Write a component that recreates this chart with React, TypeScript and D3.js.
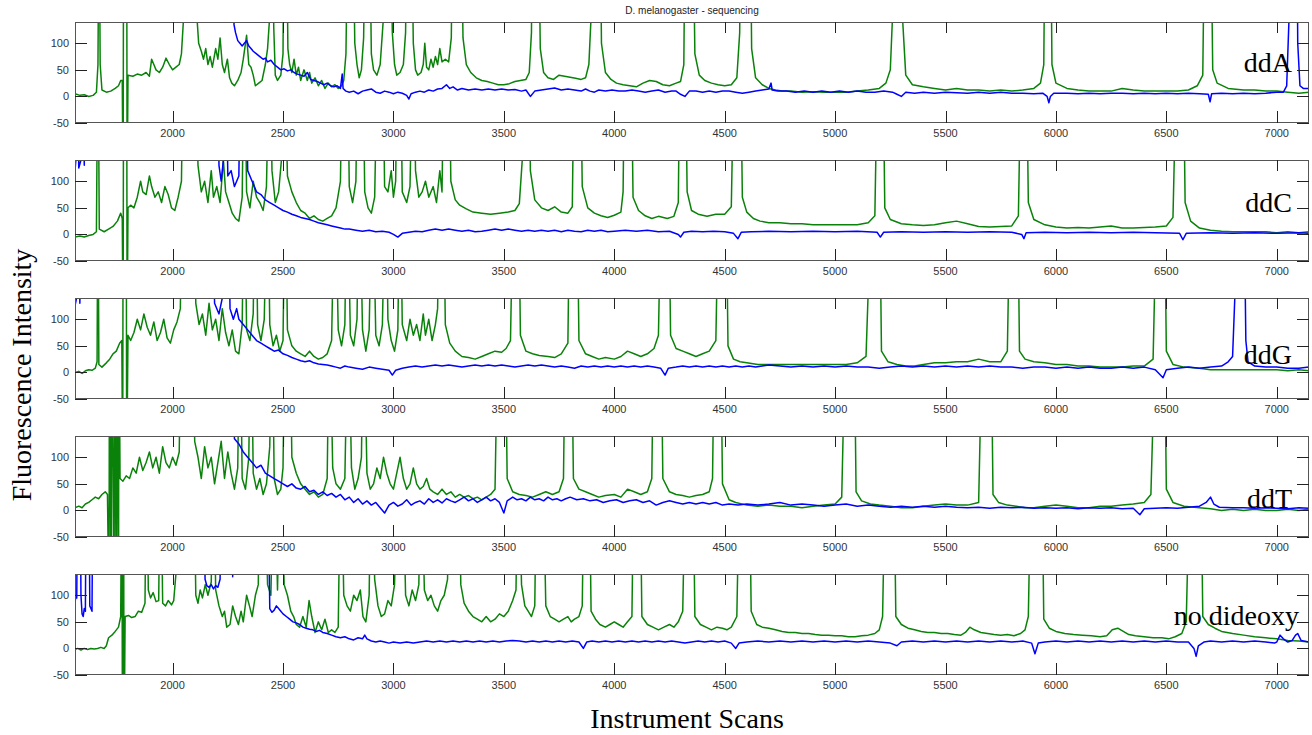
import React from "react";
import * as d3 from "d3";

type Pt = [number, number];

// axis values
const xDomain: [number, number] = [1558, 7146];
const yDomain: [number, number] = [-50, 140];
const xTicks = [2000, 2500, 3000, 3500, 4000, 4500, 5000, 5500, 6000, 6500, 7000];
const yTicks = [-50, 0, 50, 100];
const panelLabels = ["ddA", "ddC", "ddG", "ddT", "no dideoxy"];

// traces: [instrument scan, intensity]; 400 / -200 = off scale
const ddAGreen: Pt[] = [
  [1558,5],[1580,2],[1600,3],[1620,0],[1640,2],[1655,8],[1662,60],[1667,400],[1672,60],[1680,12],[1700,8],[1720,10],[1740,15],[1755,20],[1765,30],[1772,30],[1776,-200],[1778,400],[1792,400],[1794,-200],[1798,40],
  [1820,38],[1840,42],[1860,40],[1880,45],[1895,38],[1905,70],[1915,60],[1925,50],[1940,45],[1955,55],[1970,72],[1985,60],[2000,50],[2015,55],[2030,60],[2040,80],[2050,150],[2060,400],[2100,400],[2110,150],[2118,100],
  [2130,85],[2140,70],[2150,90],[2160,60],[2170,75],[2180,55],[2195,90],[2205,70],[2215,110],[2225,60],[2235,45],[2248,70],[2258,35],[2268,25],[2280,20],[2295,30],[2310,45],[2320,70],[2335,115],[2345,60],[2355,55],[2365,40],[2375,20],[2390,25],[2405,30],[2420,60],[2430,90],[2438,140],[2442,400],[2448,150],[2452,400],[2458,130],[2465,40],[2475,30],[2490,40],[2500,80],[2505,400],[2515,400],[2522,90],
  [2530,60],[2540,45],[2550,70],[2560,40],[2570,55],[2580,30],[2595,50],[2610,30],[2620,45],[2630,25],[2645,35],[2660,20],[2675,30],[2690,15],[2705,25],[2720,18],[2735,22],[2750,15],[2765,20],[2775,30],[2785,80],[2795,400],[2815,400],[2825,100],[2835,60],[2845,35],[2855,50],[2865,110],[2875,400],[2890,400],[2900,80],[2910,50],[2925,40],[2940,60],
  [2955,150],[2965,400],[2985,400],[2995,120],[3005,60],[3015,40],[3030,45],[3045,60],[3055,120],[3062,400],[3080,400],[3090,100],[3100,50],[3110,40],[3125,45],[3135,60],[3142,100],[3150,55],[3160,50],[3170,70],[3180,55],[3190,75],[3200,60],[3210,90],[3220,65],[3235,70],[3250,65],[3262,110],[3270,400],[3305,400],[3315,110],
  [3330,60],[3350,45],[3375,35],[3400,30],[3425,28],[3450,25],[3475,22],[3500,22],[3525,24],[3550,28],[3575,30],[3600,32],[3615,45],[3625,120],[3630,400],[3655,400],[3665,90],[3680,45],[3700,35],[3725,32],[3750,40],[3775,38],[3800,36],[3825,34],[3850,32],[3870,35],[3885,60],[3895,150],[3900,400],[3935,400],[3942,100],
  [3960,45],[3985,32],[4010,25],[4040,22],[4070,20],[4100,18],[4130,25],[4160,30],[4190,28],[4220,22],[4250,20],[4280,25],[4300,28],[4315,60],[4322,400],[4355,400],[4365,80],[4385,40],[4410,30],[4440,25],[4470,22],[4500,20],[4530,22],[4555,35],[4568,120],[4572,400],[4615,400],[4622,90],
  [4640,35],[4670,22],[4700,15],[4730,12],[4760,10],[4800,10],[4850,8],[4900,9],[4950,8],[5000,8],[5050,8],[5100,10],[5150,12],[5200,15],[5230,25],[5250,50],[5260,150],[5263,400],[5300,400],[5305,150],[5320,40],[5350,22],[5400,18],[5450,15],[5500,12],[5550,15],[5600,12],[5650,12],[5700,10],[5750,12],[5800,10],[5850,12],[5900,15],[5930,25],[5945,60],[5952,400],[5975,400],[5982,60],
  [6000,25],[6050,15],[6100,12],[6150,10],[6200,10],[6250,10],[6300,15],[6350,12],[6400,10],[6450,10],[6500,10],[6550,10],[6600,12],[6640,20],[6665,40],[6675,400],[6700,400],[6710,50],[6730,25],[6780,15],[6850,12],[6900,12],[6950,10],[7000,10],[7050,8],[7100,6],[7146,8],
];

const ddABlue: Pt[] = [
  [1558,130],[1562,400],[2270,400],[2278,135],[2285,120],[2295,105],[2305,100],[2315,95],[2325,100],[2335,105],[2345,95],[2355,90],[2365,85],[2380,80],[2395,75],[2410,70],[2420,72],[2430,65],[2445,68],[2460,60],[2475,55],[2490,50],[2505,52],[2520,48],[2535,50],[2550,45],[2565,42],[2580,40],[2595,38],[2610,45],[2625,32],[2640,30],[2655,28],[2670,25],[2685,22],[2700,25],[2715,20],[2730,18],[2745,20],[2760,15],[2768,42],[2772,15],
  [2785,10],[2800,8],[2820,10],[2840,5],[2860,10],[2880,12],[2900,14],[2920,8],[2940,6],[2960,10],[2980,8],[3000,5],[3020,8],[3040,6],[3060,2],[3070,-5],[3080,5],[3100,8],[3120,10],[3140,8],[3160,12],[3180,10],[3200,14],[3220,15],[3240,22],[3255,15],[3270,18],[3290,12],[3310,15],[3340,12],[3370,14],[3400,12],[3430,14],[3460,12],[3490,14],[3520,12],[3550,13],[3580,10],[3600,12],[3620,0],[3640,10],
  [3670,12],[3700,14],[3730,16],[3760,12],[3790,14],[3820,12],[3850,10],[3870,14],[3890,10],[3910,8],[3930,12],[3960,10],[3990,12],[4020,10],[4050,10],[4080,12],[4110,10],[4140,8],[4170,10],[4200,12],[4230,8],[4260,10],[4280,10],[4300,4],[4320,0],[4340,10],[4370,10],[4400,8],[4430,10],[4460,8],[4490,10],[4520,10],[4550,8],[4580,6],[4610,8],[4640,10],[4670,12],[4700,14],[4710,25],[4715,12],
  [4740,10],[4780,10],[4820,8],[4860,10],[4900,8],[4940,10],[4980,8],[5020,10],[5060,8],[5100,10],[5140,8],[5180,8],[5220,10],[5260,8],[5280,4],[5300,0],[5320,8],[5360,6],[5400,8],[5450,6],[5500,8],[5550,7],[5600,6],[5650,8],[5700,6],[5750,8],[5800,6],[5850,6],[5900,5],[5940,6],[5960,0],[5968,-12],[5975,0],[5990,6],
  [6050,6],[6100,5],[6150,6],[6200,5],[6250,6],[6300,6],[6350,5],[6400,6],[6450,5],[6500,6],[6550,5],[6600,6],[6650,5],[6690,4],[6698,-10],[6705,5],[6750,6],[6800,5],[6850,6],[6900,5],[6950,6],[7000,8],[7030,8],[7045,20],[7055,140],[7060,400],[7090,400],[7095,100],[7105,20],[7120,15],[7146,15],
];

const ddCGreen: Pt[] = [
  [1558,-5],[1580,-3],[1600,-5],[1620,-2],[1640,0],[1655,5],[1662,400],[1668,10],[1690,5],[1710,10],[1730,15],[1750,25],[1765,40],[1772,30],[1776,-200],[1778,400],[1792,400],[1794,-200],[1798,50],
  [1810,55],[1825,50],[1840,70],[1855,100],[1865,80],[1880,75],[1895,110],[1905,90],[1920,70],[1935,80],[1950,60],[1965,90],[1980,75],[1995,50],[2010,45],[2025,70],[2040,100],[2050,400],[2100,400],[2115,130],
  [2130,80],[2145,100],[2160,60],[2175,120],[2185,70],[2200,90],[2215,60],[2230,140],[2240,80],[2255,60],[2270,40],[2285,30],[2300,25],[2315,70],[2325,400],[2335,80],[2350,50],[2365,100],[2380,70],[2395,60],[2410,45],[2425,90],[2440,400],[2450,120],[2465,60],[2480,80],[2495,150],[2505,400],[2520,110],
  [2540,80],[2560,60],[2580,45],[2600,40],[2620,30],[2640,35],[2660,28],[2680,25],[2700,30],[2720,35],[2740,50],[2760,100],[2770,400],[2790,400],[2800,90],[2815,60],[2830,100],[2840,400],[2860,400],[2870,80],[2885,50],[2900,40],[2915,70],[2930,400],[2950,400],[2960,90],[2975,80],[2990,120],[3000,70],[3010,100],[3020,400],[3030,400],[3040,80],
  [3060,60],[3075,90],[3090,400],[3100,120],[3115,70],[3130,80],[3145,100],[3160,70],[3180,90],[3195,60],[3210,120],[3220,80],[3230,400],[3250,400],[3260,100],[3280,65],[3300,55],[3330,48],[3360,42],[3400,40],[3440,38],[3480,40],[3520,42],[3550,45],[3570,58],[3585,150],[3590,400],[3615,400],[3620,120],
  [3640,65],[3670,50],[3700,45],[3730,52],[3760,42],[3790,40],[3810,52],[3820,400],[3845,400],[3855,90],[3880,50],[3910,40],[3940,35],[3970,32],[4000,36],[4030,42],[4040,80],[4048,400],[4075,400],[4085,70],[4110,45],[4140,35],[4170,30],[4200,34],[4240,30],[4270,34],[4290,60],[4298,400],[4320,400],[4330,80],
  [4350,45],[4380,38],[4420,34],[4460,38],[4500,38],[4530,52],[4545,400],[4570,400],[4580,70],[4600,42],[4630,30],[4660,25],[4700,22],[4750,22],[4800,20],[4850,20],[4900,18],[4950,18],[5000,18],[5050,18],[5100,18],[5150,22],[5180,35],[5195,400],[5215,400],[5225,50],[5250,28],[5300,20],[5350,18],[5400,17],[5450,18],[5500,22],[5550,25],[5600,20],[5650,15],[5700,14],[5750,15],[5800,16],[5830,35],[5845,400],[5865,400],[5875,60],
  [5900,28],[5950,18],[6000,14],[6050,12],[6100,13],[6150,12],[6200,14],[6250,16],[6300,12],[6350,12],[6400,13],[6450,14],[6500,16],[6530,32],[6550,400],[6575,400],[6585,60],[6610,25],[6650,12],[6700,8],[6750,6],[6800,5],[6850,5],[6900,5],[6950,5],[7000,3],[7050,5],[7100,3],[7146,5],
];

const ddCBlue: Pt[] = [
  [1558,120],[1562,140],[1568,400],[1575,125],[1585,140],[1590,400],[1600,130],[1605,400],[2200,400],[2210,130],[2220,100],[2230,140],[2240,400],[2250,110],[2265,120],[2280,90],[2300,110],[2310,400],[2330,400],[2340,120],[2360,100],[2380,80],[2400,75],[2420,65],[2440,60],[2460,55],[2480,50],[2500,45],[2520,42],[2540,38],[2560,35],[2580,32],[2600,30],[2620,28],[2640,25],[2660,22],[2680,20],[2700,18],[2720,16],[2740,14],[2760,12],[2780,10],
  [2800,10],[2830,8],[2860,6],[2890,8],[2920,5],[2950,6],[2980,4],[3000,0],[3020,-5],[3040,2],[3070,4],[3100,6],[3130,5],[3160,8],[3190,10],[3220,8],[3250,10],[3280,8],[3310,6],[3340,8],[3370,5],[3400,6],[3430,8],[3460,10],[3490,8],[3520,10],[3550,8],[3580,6],[3610,8],[3640,6],[3670,8],[3700,6],[3730,8],[3760,5],[3790,8],[3820,6],[3850,5],[3880,8],[3910,6],[3940,8],[3970,5],[4000,6],
  [4050,8],[4100,6],[4150,8],[4200,5],[4250,6],[4290,0],[4300,-5],[4315,4],[4350,6],[4400,5],[4450,6],[4500,5],[4540,2],[4560,-8],[4575,4],[4620,5],[4700,6],[4800,5],[4900,6],[5000,5],[5100,6],[5190,4],[5205,-5],[5220,4],[5300,5],[5400,4],[5500,5],[5600,4],[5700,5],[5800,4],[5845,0],[5855,-8],[5865,3],[5950,4],[6050,3],[6150,4],[6250,3],[6350,4],[6450,3],[6560,2],[6575,-10],[6590,2],[6700,3],[6800,2],[6900,3],[7000,2],[7100,3],[7146,2],
];

const ddGGreen: Pt[] = [
  [1558,0],[1575,2],[1590,-2],[1605,3],[1620,5],[1635,4],[1650,8],[1658,20],[1662,400],[1666,15],[1680,10],[1700,18],[1715,25],[1730,35],[1745,40],[1760,55],[1770,60],[1774,-200],[1776,400],[1790,400],[1792,-200],[1798,70],
  [1810,60],[1825,75],[1840,100],[1855,80],[1870,110],[1885,85],[1900,70],[1915,95],[1930,60],[1945,75],[1960,100],[1975,65],[1990,55],[2005,80],[2020,95],[2035,120],[2045,400],[2095,400],[2105,130],
  [2120,90],[2135,110],[2150,70],[2165,130],[2180,80],[2195,100],[2210,60],[2225,120],[2240,75],[2255,50],[2270,80],[2285,40],[2300,35],[2315,90],[2325,400],[2335,80],[2350,60],[2365,110],[2375,400],[2385,90],[2400,60],[2415,100],[2430,400],[2440,90],[2455,50],[2470,70],[2485,40],[2500,60],[2510,400],[2520,80],
  [2540,50],[2560,40],[2580,35],[2600,30],[2620,40],[2640,30],[2660,25],[2680,28],[2700,35],[2720,60],[2735,400],[2750,80],[2765,50],[2780,90],[2790,400],[2805,70],[2820,50],[2835,100],[2845,400],[2860,80],[2875,40],[2890,80],[2905,400],[2920,70],[2935,50],[2950,90],[2965,400],[2975,100],[2990,60],[3005,40],[3020,80],[3030,400],[3040,90],
  [3060,60],[3075,100],[3090,70],[3105,90],[3120,60],[3135,110],[3145,70],[3160,100],[3175,60],[3190,90],[3200,120],[3210,400],[3225,400],[3235,90],[3255,55],[3280,40],[3310,30],[3340,28],[3370,25],[3400,30],[3430,35],[3460,40],[3490,38],[3510,45],[3530,60],[3545,400],[3565,400],[3575,70],
  [3600,40],[3630,35],[3660,32],[3700,30],[3730,28],[3760,35],[3790,55],[3800,400],[3830,400],[3840,60],[3870,35],[3900,30],[3930,25],[3960,28],[4000,25],[4030,30],[4060,40],[4090,35],[4120,30],[4150,35],[4180,45],[4200,70],[4215,400],[4245,400],[4255,70],
  [4280,45],[4310,40],[4340,35],[4370,30],[4400,35],[4430,40],[4460,60],[4475,400],[4505,400],[4515,50],[4540,25],[4570,20],[4600,18],[4650,15],[4700,15],[4750,15],[4800,15],[4850,15],[4900,15],[4950,15],[5000,15],[5050,15],[5100,18],[5140,30],[5170,400],[5200,400],[5210,40],
  [5240,20],[5280,15],[5320,12],[5360,12],[5400,15],[5450,18],[5500,18],[5550,20],[5600,20],[5650,25],[5700,20],[5750,20],[5780,40],[5795,400],[5825,400],[5835,40],[5860,25],[5900,20],[5950,18],[6000,15],[6050,15],[6100,12],[6150,12],[6200,10],[6250,10],[6300,10],[6350,12],[6400,12],[6440,25],[6460,400],[6490,400],[6500,40],
  [6530,15],[6580,10],[6650,8],[6700,5],[6750,5],[6800,5],[6850,5],[6900,5],[6950,5],[7000,5],[7050,3],[7100,5],[7146,3],
];

const ddGBlue: Pt[] = [
  [1558,125],[1565,140],[1570,400],[1580,130],[1590,400],[2180,400],[2190,130],[2210,110],[2225,140],[2235,400],[2250,400],[2260,120],[2275,100],[2290,120],[2300,100],[2320,90],[2340,80],[2360,70],[2380,60],[2400,55],[2420,50],[2440,45],[2460,40],[2480,42],[2500,35],[2520,32],[2540,28],[2560,25],[2580,22],[2600,20],[2620,22],[2640,18],[2660,16],[2680,15],[2700,14],[2720,12],[2740,10],[2760,8],[2780,12],
  [2800,10],[2830,8],[2860,6],[2890,10],[2920,8],[2950,6],[2980,4],[2995,-5],[3010,4],[3040,8],[3070,10],[3100,12],[3130,10],[3160,12],[3190,14],[3220,12],[3250,14],[3280,12],[3310,10],[3340,12],[3370,14],[3400,12],[3430,14],[3460,12],[3490,14],[3520,12],[3550,10],[3580,12],[3610,14],[3640,12],[3670,14],[3700,12],[3730,10],[3760,12],[3790,10],[3820,8],[3850,12],[3880,10],[3910,12],[3940,10],[3970,12],
  [4000,10],[4030,12],[4060,10],[4090,12],[4120,10],[4150,12],[4180,10],[4210,8],[4230,-5],[4245,8],[4280,10],[4310,12],[4340,10],[4370,12],[4400,10],[4430,12],[4460,10],[4490,12],[4520,10],[4550,12],[4580,10],[4610,12],[4640,10],[4670,12],[4700,14],[4750,12],[4800,10],[4850,12],[4900,10],[4950,12],[5000,10],[5050,12],[5100,10],[5150,10],[5200,8],[5250,10],
  [5300,12],[5350,10],[5400,12],[5450,10],[5500,12],[5550,10],[5600,12],[5650,10],[5700,12],[5750,10],[5800,10],[5850,8],[5900,10],[5950,10],[6000,8],[6050,10],[6100,8],[6150,10],[6200,8],[6250,8],[6300,10],[6350,8],[6400,10],[6450,5],[6485,-10],[6500,5],[6550,8],[6600,10],[6650,8],[6700,10],[6750,12],[6780,20],[6800,30],[6810,140],[6815,400],[6850,400],[6860,60],[6870,20],[6900,12],[6950,10],[7000,10],[7050,8],[7100,8],[7146,10],
];

const ddTGreen: Pt[] = [
  [1558,5],[1575,8],[1590,5],[1605,12],[1620,15],[1635,20],[1650,25],[1665,22],[1680,30],[1695,35],[1705,30],[1712,-200],[1714,400],[1722,-200],[1724,400],[1735,-200],[1737,400],[1745,-200],[1747,400],[1755,-200],[1757,400],[1762,60],
  [1775,55],[1790,65],[1805,60],[1820,80],[1835,70],[1850,100],[1865,75],[1880,90],[1895,110],[1910,80],[1925,100],[1940,70],[1955,120],[1970,90],[1985,80],[2000,100],[2015,85],[2030,110],[2040,400],[2090,400],[2100,130],
  [2115,100],[2130,60],[2145,120],[2160,80],[2175,100],[2190,50],[2205,90],[2220,130],[2235,60],[2250,110],[2265,70],[2280,40],[2295,80],[2305,400],[2315,60],[2330,40],[2345,100],[2355,400],[2365,70],[2380,40],[2395,60],[2410,30],[2425,50],[2440,120],[2450,400],[2460,60],[2475,30],[2490,40],[2500,80],[2510,400],[2530,400],[2540,100],
  [2560,70],[2580,50],[2600,40],[2620,30],[2640,35],[2660,25],[2680,30],[2700,60],[2710,400],[2725,80],[2740,50],[2760,40],[2780,60],[2795,400],[2810,80],[2825,40],[2840,60],[2855,100],[2865,400],[2880,70],[2895,40],[2910,50],[2925,80],[2940,60],[2955,100],[2970,70],[2985,50],[3000,40],[3015,70],[3030,100],[3045,60],
  [3060,40],[3075,50],[3090,80],[3105,50],[3120,40],[3135,45],[3150,60],[3165,40],[3180,35],[3200,30],[3220,40],[3240,30],[3260,35],[3280,25],[3300,30],[3320,25],[3340,28],[3360,22],[3380,25],[3400,20],[3420,25],[3440,30],[3460,40],[3475,400],[3505,400],[3515,60],
  [3540,35],[3570,30],[3600,28],[3630,25],[3660,30],[3690,35],[3720,30],[3750,35],[3770,60],[3780,400],[3805,400],[3815,60],[3840,40],[3870,35],[3900,30],[3930,25],[3960,28],[4000,30],[4030,25],[4060,40],[4090,35],[4120,30],[4150,35],[4170,60],[4180,400],[4210,400],[4220,60],
  [4250,35],[4280,30],[4310,28],[4340,25],[4370,28],[4400,30],[4430,35],[4445,60],[4455,400],[4480,400],[4490,50],[4520,20],[4550,15],[4600,10],[4650,8],[4700,10],[4750,8],[4800,8],[4850,5],[4900,8],[4950,10],[5000,12],[5030,25],[5050,400],[5085,400],[5095,35],
  [5120,18],[5160,12],[5200,10],[5250,8],[5300,5],[5350,5],[5400,8],[5450,10],[5500,12],[5550,10],[5600,10],[5650,15],[5670,400],[5705,400],[5715,30],[5740,15],[5780,10],[5820,8],[5860,5],[5900,5],[5950,8],[6000,10],[6050,8],[6100,5],[6150,5],[6200,8],[6250,8],[6300,10],[6350,12],[6400,15],[6430,30],[6455,400],[6490,400],[6500,40],
  [6530,15],[6580,8],[6650,5],[6700,3],[6750,0],[6800,2],[6850,0],[6900,2],[6950,0],[7000,0],[7050,2],[7100,0],[7146,2],
];

const ddTBlue: Pt[] = [
  [1558,400],[2270,400],[2280,135],[2300,125],[2320,110],[2340,100],[2360,90],[2380,80],[2400,85],[2420,70],[2440,65],[2460,60],[2480,55],[2500,50],[2520,45],[2540,50],[2560,42],[2580,40],[2600,45],[2620,35],[2640,38],[2660,30],[2680,35],[2700,28],[2720,32],[2740,25],[2760,30],[2780,20],[2800,25],[2820,15],[2840,22],[2860,12],[2880,18],[2900,10],[2920,15],[2940,5],[2960,-5],[2980,10],
  [3000,15],[3020,8],[3040,12],[3060,20],[3080,10],[3100,15],[3120,18],[3140,12],[3160,22],[3180,15],[3200,20],[3220,14],[3240,22],[3260,18],[3280,15],[3300,20],[3320,25],[3340,18],[3360,22],[3380,15],[3400,20],[3420,25],[3440,18],[3460,22],[3480,15],[3500,-5],[3515,18],[3540,25],[3560,20],[3580,22],[3600,18],[3620,25],[3640,20],[3660,22],[3680,18],[3700,25],[3720,20],[3740,22],[3760,18],[3780,22],[3800,25],
  [3830,20],[3860,22],[3890,18],[3920,20],[3950,15],[3980,18],[4010,20],[4040,15],[4070,18],[4100,20],[4130,15],[4160,18],[4190,10],[4220,15],[4250,18],[4280,15],[4310,12],[4340,15],[4370,12],[4400,15],[4430,12],[4460,15],[4490,10],[4520,12],[4560,10],[4600,12],[4650,10],[4700,12],[4750,15],[4800,10],[4850,12],[4900,10],[4950,8],[5000,10],[5050,12],[5100,8],[5150,10],
  [5200,8],[5250,6],[5300,8],[5350,6],[5400,8],[5450,6],[5500,8],[5550,6],[5600,5],[5650,6],[5700,4],[5750,6],[5800,5],[5850,6],[5900,4],[5950,5],[6000,4],[6050,5],[6100,3],[6150,5],[6200,4],[6250,5],[6300,3],[6350,4],[6380,-8],[6400,3],[6450,4],[6500,5],[6550,4],[6600,6],[6650,8],[6680,15],[6700,25],[6715,12],[6740,6],[6800,5],[6850,5],[6900,4],[6950,5],[7000,4],[7050,3],[7100,5],[7146,4],
];

const noDideoxyGreen: Pt[] = [
  [1558,-2],[1570,0],[1585,-3],[1600,0],[1615,-2],[1630,0],[1645,-1],[1660,0],[1675,2],[1690,0],[1700,5],[1710,20],[1725,25],[1740,32],[1755,40],[1765,60],[1770,400],[1773,-200],[1778,400],[1780,-200],[1785,60],
  [1800,62],[1815,58],[1830,60],[1845,70],[1860,68],[1875,85],[1882,400],[1890,110],[1900,95],[1912,105],[1925,88],[1937,90],[1945,400],[1955,85],[1968,80],[1980,90],[1995,82],[2005,90],[2015,140],[2020,400],[2095,400],[2105,100],
  [2115,85],[2125,110],[2135,95],[2148,120],[2160,100],[2175,125],[2185,400],[2195,110],[2210,80],[2225,60],[2235,70],[2245,40],[2260,45],[2272,80],[2285,60],[2298,45],[2310,70],[2320,50],[2335,100],[2348,80],[2360,60],[2375,100],[2388,120],[2395,400],[2415,400],[2430,120],[2445,100],[2460,400],[2475,110],[2490,400],[2505,120],
  [2520,100],[2535,70],[2548,60],[2560,45],[2575,40],[2590,60],[2605,40],[2618,90],[2630,60],[2645,30],[2660,50],[2675,35],[2690,55],[2705,30],[2720,35],[2735,30],[2750,40],[2762,400],[2775,100],[2790,80],[2805,70],[2820,100],[2835,90],[2850,110],[2862,60],[2875,50],[2890,100],[2900,400],[2915,130],
  [2930,80],[2945,60],[2960,65],[2975,90],[2990,80],[3005,120],[3020,400],[3040,400],[3055,100],[3070,80],[3085,110],[3100,90],[3115,120],[3125,400],[3140,110],[3155,90],[3170,100],[3185,80],[3200,70],[3215,90],[3230,100],[3245,130],[3255,400],[3295,400],[3305,120],
  [3320,85],[3340,70],[3360,60],[3380,55],[3400,50],[3420,60],[3440,50],[3460,55],[3480,65],[3500,60],[3520,70],[3540,90],[3555,110],[3565,400],[3580,120],[3595,80],[3610,70],[3625,60],[3640,80],[3650,400],[3675,400],[3690,80],
  [3710,60],[3730,55],[3750,50],[3770,55],[3790,60],[3805,50],[3820,55],[3840,60],[3855,80],[3865,400],[3885,400],[3895,70],[3915,55],[3935,45],[3960,40],[3980,45],[4000,50],[4020,45],[4040,40],[4060,50],[4080,60],[4090,400],[4115,400],[4125,60],
  [4150,45],[4175,40],[4200,35],[4225,40],[4250,45],[4270,40],[4290,50],[4310,70],[4325,400],[4355,400],[4365,60],[4390,45],[4415,40],[4440,35],[4465,40],[4490,38],[4510,35],[4530,40],[4555,60],[4570,400],[4610,400],[4620,70],
  [4645,45],[4670,40],[4700,38],[4730,35],[4760,32],[4790,30],[4820,30],[4850,28],[4880,28],[4910,26],[4940,25],[4970,25],[5000,24],[5030,24],[5060,22],[5090,22],[5120,24],[5150,25],[5180,28],[5200,35],[5215,60],[5230,400],[5265,400],[5275,60],
  [5300,45],[5330,38],[5360,35],[5390,32],[5420,30],[5450,30],[5480,28],[5510,28],[5540,26],[5570,25],[5590,30],[5610,40],[5630,35],[5660,30],[5690,28],[5720,26],[5750,25],[5780,26],[5810,24],[5840,28],[5860,35],[5875,60],[5890,400],[5935,400],[5945,55],
  [5970,38],[6000,32],[6040,28],[6080,26],[6120,25],[6160,24],[6200,22],[6230,24],[6255,35],[6280,38],[6305,32],[6330,26],[6360,24],[6400,22],[6440,20],[6480,20],[6510,18],[6540,22],[6570,28],[6590,50],[6610,400],[6655,400],[6665,60],
  [6690,45],[6720,38],[6750,32],[6800,28],[6850,25],[6900,22],[6950,20],[7000,18],[7050,15],[7100,14],[7146,12],
];

const noDideoxyBlue: Pt[] = [
  [1558,85],[1562,100],[1566,95],[1570,400],[1580,400],[1585,100],[1590,65],[1595,60],[1600,75],[1605,70],[1610,400],[1620,400],[1625,80],[1630,75],[1635,70],[1640,400],[2140,400],[2147,130],[2155,118],[2165,115],[2175,120],[2185,112],[2195,118],[2205,115],[2215,130],[2220,400],[2265,400],[2272,135],[2278,400],[2430,400],
  [2440,75],[2450,68],[2460,72],[2470,80],[2480,75],[2490,70],[2500,65],[2515,60],[2530,55],[2545,50],[2560,48],[2575,45],[2590,40],[2605,38],[2620,36],[2635,35],[2650,32],[2665,34],[2680,30],[2700,28],[2720,25],[2740,22],[2760,20],[2780,22],[2800,18],[2820,16],[2840,20],[2860,18],[2870,25],[2880,18],[2900,14],[2920,12],[2940,14],[2960,12],[2980,10],
  [3000,12],[3030,10],[3060,12],[3090,10],[3120,12],[3150,14],[3180,12],[3210,14],[3240,12],[3270,14],[3300,12],[3330,14],[3360,12],[3390,14],[3420,12],[3450,14],[3480,12],[3510,14],[3540,15],[3570,14],[3600,12],[3630,14],[3660,12],[3690,14],[3720,12],[3750,14],[3780,12],[3810,14],[3840,12],[3860,0],[3875,12],
  [3900,14],[3930,12],[3960,14],[3990,12],[4020,14],[4050,12],[4080,14],[4110,12],[4140,14],[4170,12],[4200,14],[4230,12],[4260,14],[4290,12],[4320,10],[4350,12],[4380,14],[4410,12],[4440,14],[4470,12],[4500,14],[4530,10],[4550,0],[4565,10],
  [4600,12],[4650,14],[4700,12],[4750,14],[4800,12],[4850,14],[4900,12],[4950,14],[5000,12],[5050,14],[5100,12],[5150,14],[5200,12],[5250,10],[5280,5],[5300,12],[5350,14],[5400,12],[5450,14],[5500,12],[5550,14],[5600,12],[5650,14],[5700,12],[5750,14],[5800,12],[5850,14],[5890,10],[5905,-10],[5920,10],
  [5950,12],[6000,14],[6050,12],[6100,14],[6150,12],[6200,14],[6250,12],[6300,14],[6350,12],[6400,14],[6450,12],[6500,14],[6550,12],[6600,12],[6625,0],[6635,-15],[6645,5],[6670,12],[6700,14],[6750,12],[6800,14],[6850,12],[6900,14],[6950,12],[6990,10],[7000,12],[7015,25],[7030,18],[7050,12],[7070,15],[7085,25],[7095,28],[7110,15],[7146,12],
];

const panels = [
  { label: panelLabels[0], green: ddAGreen, blue: ddABlue },
  { label: panelLabels[1], green: ddCGreen, blue: ddCBlue },
  { label: panelLabels[2], green: ddGGreen, blue: ddGBlue },
  { label: panelLabels[3], green: ddTGreen, blue: ddTBlue },
  { label: panelLabels[4], green: noDideoxyGreen, blue: noDideoxyBlue },
];

// layout
const W = 1312;
const H = 735;
const plotLeft = 75;
const plotRight = 1309;
const firstTop = 22;
const panelStep = 138;
const panelH = 101;
const labelDy = [50, 52, 66, 72, 51];
const serif = "'Liberation Serif', 'Times New Roman', serif";
const sans = "'Liberation Sans', Arial, sans-serif";

export default function App() {
  const x = d3.scaleLinear().domain(xDomain).range([plotLeft, plotRight]);

  return (
    <svg width={W} height={H} style={{ position: "absolute", left: 0, top: 0, background: "#fff" }}>
      <text x={692} y={14} fontSize={10} fontFamily={sans} textAnchor="middle" fill="#222">
        D. melanogaster - sequencing
      </text>

      {panels.map((p, i) => {
        const top = firstTop + i * panelStep;
        const bottom = top + panelH;
        const y = d3.scaleLinear().domain(yDomain).range([bottom, top]);
        const line = d3.line<Pt>().x((d) => x(d[0])).y((d) => y(d[1]));
        return (
          <g key={p.label}>
            <clipPath id={`clip-${i}`}>
              <rect x={plotLeft} y={top} width={plotRight - plotLeft} height={panelH} />
            </clipPath>
            <g clipPath={`url(#clip-${i})`} fill="none" strokeLinejoin="round">
              <path d={line(p.green) || ""} stroke="#0a820a" strokeWidth={1.5} />
              <path d={line(p.blue) || ""} stroke="#0000ff" strokeWidth={1.5} />
            </g>
            <rect x={plotLeft + 0.5} y={top + 0.5} width={plotRight - plotLeft - 1} height={panelH - 1} fill="none" stroke="#555" />
            {xTicks.map((t) => (
              <g key={t}>
                <line x1={Math.round(x(t)) + 0.5} x2={Math.round(x(t)) + 0.5} y1={bottom} y2={bottom - 12} stroke="#222" />
                <line x1={Math.round(x(t)) + 0.5} x2={Math.round(x(t)) + 0.5} y1={top} y2={top + 11} stroke="#222" />
                <text x={x(t)} y={bottom + 14} fontSize={11} fontFamily={sans} textAnchor="middle" fill="#333">
                  {t}
                </text>
              </g>
            ))}
            {yTicks.map((t) => (
              <g key={t}>
                <line x1={plotLeft} x2={plotLeft + 12} y1={Math.round(y(t)) + 0.5} y2={Math.round(y(t)) + 0.5} stroke="#222" />
                <line x1={plotRight} x2={plotRight - 12} y1={Math.round(y(t)) + 0.5} y2={Math.round(y(t)) + 0.5} stroke="#222" />
                <text x={69} y={y(t) + 4} fontSize={11} fontFamily={sans} textAnchor="end" fill="#333">
                  {t}
                </text>
              </g>
            ))}
            <text
              x={i === 4 ? 1299 : 1292}
              y={top + labelDy[i]}
              fontSize={28}
              fontFamily={serif}
              textAnchor="end"
              fill="#000"
            >
              {p.label}
            </text>
          </g>
        );
      })}

      <text
        transform="translate(31,375) rotate(-90)"
        fontSize={28}
        fontFamily={serif}
        textAnchor="middle"
        fill="#000"
      >
        Fluorescence Intensity
      </text>
      <text x={687} y={728} fontSize={28} fontFamily={serif} textAnchor="middle" fill="#000">
        Instrument Scans
      </text>
    </svg>
  );
}
